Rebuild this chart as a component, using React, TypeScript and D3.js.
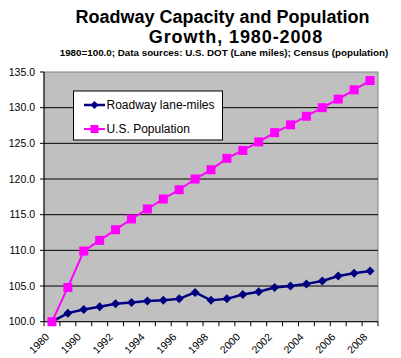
import React from "react";
import * as d3 from "d3";

const categories = ["1980","1985","1990","1991","1992","1993","1994","1995","1996","1997","1998","1999","2000","2001","2002","2003","2004","2005","2006","2007","2008"];
const roadway = [100.0,101.2,101.7,102.1,102.5,102.7,102.9,103.0,103.2,104.1,103.0,103.2,103.8,104.2,104.8,105.0,105.3,105.7,106.4,106.8,107.1];
const population = [100.0,104.8,109.9,111.4,112.9,114.4,115.8,117.2,118.5,120.0,121.3,122.9,124.0,125.2,126.5,127.6,128.8,130.0,131.2,132.5,133.8];
const yTicks = [100,105,110,115,120,125,130,135];
const shownLabels = ["1980","1990","1992","1994","1996","1998","2000","2002","2004","2006","2008"];
const seriesNames = ["Roadway lane-miles","U.S. Population"];

const W = 401, H = 358;
const L = 44, R = 378, T = 72, B = 321.7;

export default function App() {
  const x = d3.scaleBand<string>().domain(categories).range([L, R]);
  const bw = x.bandwidth();
  const cx = (c: string) => (x(c) as number) + bw / 2;
  const y = d3.scaleLinear().domain([100, 135]).range([B, T]);
  const line = d3.line<number>().x((_, i) => cx(categories[i])).y(d => y(d));
  const font = "Arial, 'Liberation Sans', sans-serif";
  const diamond = (px: number, py: number, r: number) => `M${px},${py - r}L${px + r},${py}L${px},${py + r}L${px - r},${py}Z`;
  const navy = "#000080", pink = "#FF00FF";

  return (
    <svg width={W} height={H} style={{ position: "absolute", left: 0, top: 0, background: "#fff" }} fontFamily={font}>
      <rect x={0} y={0} width={W} height={H} fill="#fff" />
      <text x={222.5} y={23} textAnchor="middle" fontSize={18} fontWeight="bold">Roadway Capacity and Population</text>
      <text x={236} y={42.5} textAnchor="middle" fontSize={18} fontWeight="bold" letterSpacing={0.9}>Growth, 1980-2008</text>
      <text x={224} y={55.5} textAnchor="middle" fontSize={9.8} fontWeight="bold">1980=100.0; Data sources: U.S. DOT (Lane miles); Census (population)</text>

      <rect x={L} y={T} width={R - L} height={B - T} fill="#C0C0C0" stroke="#808080" strokeWidth={1} />
      {yTicks.filter(t => t > 100 && t < 135).map(t => (
        <line key={t} x1={L} x2={R} y1={y(t)} y2={y(t)} stroke="#000" strokeWidth={1} />
      ))}
      <line x1={L} x2={L} y1={T} y2={B} stroke="#000" />
      <line x1={L} x2={R} y1={B} y2={B} stroke="#000" />
      {yTicks.map(t => (
        <g key={t}>
          <line x1={L - 4} x2={L} y1={y(t)} y2={y(t)} stroke="#000" />
          <text x={35} y={y(t) + 3.5} textAnchor="end" fontSize={10.5} fill="#000">{t.toFixed(1)}</text>
        </g>
      ))}
      {categories.concat(["end"]).map((c, i) => {
        const px = i < categories.length ? (x(c) as number) : R;
        return <line key={"t" + i} x1={px} x2={px} y1={B} y2={B + 4.5} stroke="#000" />;
      })}
      {categories.filter(c => shownLabels.includes(c)).map(c => {
        const px = cx(c) - 2, py = B + 16;
        return (
          <text key={"l" + c} x={px} y={py} textAnchor="end" fontSize={10.5} transform={`rotate(-45,${px},${py})`}>{c}</text>
        );
      })}

      <path d={line(roadway) || ""} fill="none" stroke={navy} strokeWidth={2.5} />
      {roadway.map((v, i) => (
        <path key={"r" + i} d={diamond(cx(categories[i]), y(v), 4.5)} fill={navy} />
      ))}
      <path d={line(population) || ""} fill="none" stroke={pink} strokeWidth={2} />
      {population.map((v, i) => (
        <rect key={"p" + i} x={cx(categories[i]) - 4.5} y={y(v) - 4.5} width={9} height={9} fill={pink} />
      ))}

      <rect x={73.5} y={91} width={149} height={49} fill="#fff" stroke="#000" strokeWidth={1} />
      <line x1={84} x2={105} y1={105} y2={105} stroke={navy} strokeWidth={2.5} />
      <path d={diamond(94.5, 105, 4)} fill={navy} />
      <text x={106.5} y={109.3} fontSize={12}>{seriesNames[0]}</text>
      <line x1={84} x2={105} y1={129} y2={129} stroke={pink} strokeWidth={2} />
      <rect x={90.5} y={125} width={8} height={8} fill={pink} />
      <text x={106.5} y={133.3} fontSize={12}>{seriesNames[1]}</text>
    </svg>
  );
}
